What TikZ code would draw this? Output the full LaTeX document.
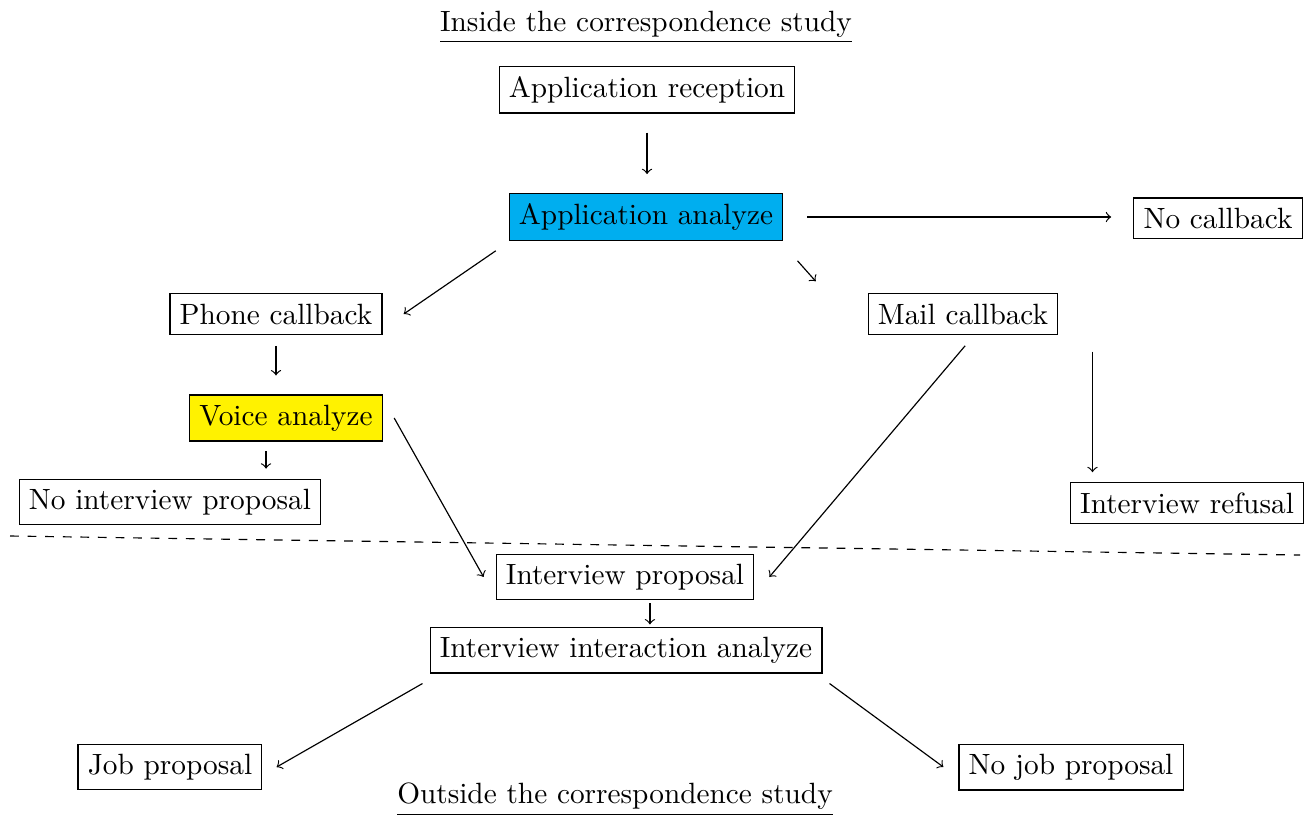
\documentclass[tikz,border=0pt]{standalone}
\usepackage{xcolor}

\definecolor{analyzeblue}{RGB}{0,174,239}
\definecolor{voiceyellow}{RGB}{255,242,0}

\tikzset{
    stage/.style={draw, inner sep=0.333em},
    arr/.style={->}
}

\begin{document}
\begin{tikzpicture}
        \useasboundingbox (0,0) rectangle (15.767,-9.796);

        % Section titles
        \node[anchor=base] (inside) at (7.746,-0.372) {\underline{Inside the correspondence study}};
        \node[anchor=base] (outside) at (7.374,-9.640) {\underline{Outside the correspondence study}};

        % Stages inside the study
        \node[stage] (reception) at (7.758,-1.079) {Application reception};
        \node[stage, fill=analyzeblue] (analyze) at (7.746,-2.602) {Application analyze};
        \node[stage] (nocall) at (14.604,-2.614) {No callback};
        \node[stage] (phone) at (3.309,-3.765) {Phone callback};
        \node[stage] (mail) at (11.547,-3.765) {Mail callback};
        \node[stage, fill=voiceyellow] (voice) at (3.429,-5.012) {Voice analyze};
        \node[stage] (noint) at (2.038,-6.019) {No interview proposal};
        \node[stage] (refusal) at (14.233,-6.031) {Interview refusal};

        % Stages outside the study
        \node[stage] (intprop) at (7.494,-6.918) {Interview proposal};
        \node[stage] (interact) at (7.506,-7.794) {Interview interaction analyze};
        \node[stage] (job) at (2.038,-9.197) {Job proposal};
        \node[stage] (nojob) at (12.842,-9.197) {No job proposal};

        % Border between inside and outside
        \draw[dashed] (0.120,-6.427) -- (15.588,-6.655);

        % Arrows
        \draw[arr, shorten <=6.5pt, shorten >=6.5pt] (reception.south) -- (reception.south |- analyze.north);
        \draw[arr, shorten <=8.2pt, shorten >=7.5pt] (analyze.east) -- (analyze.east -| nocall.west);
        \draw[arr] ([shift={(-4.4pt,-3.4pt)}]analyze.south west) -- ([xshift=7.2pt]phone.east);
        \draw[arr] ([shift={(4.8pt,-6.8pt)}]analyze.south east) -- ([shift={(-17.7pt,4.1pt)}]mail.north west);
        \draw[arr, shorten <=3.8pt, shorten >=6.5pt] (phone.south) -- (phone.south |- voice.north);
        \draw[arr, shorten <=3.4pt, shorten >=3.4pt] ([xshift=-6.8pt]voice.south) -- ([xshift=-6.8pt]voice.south |- noint.north);
        \draw[arr] ([xshift=3.8pt]voice.east) -- ([xshift=-4.1pt]intprop.west);
        \draw[arr] ([shift={(0.7pt,-3.8pt)}]mail.south) -- ([xshift=5.1pt]intprop.east);
        \draw[arr, shorten >=3.4pt] ([shift={(11.6pt,-5.8pt)}]mail.south east) -- ([xshift=11.6pt]mail.south east |- refusal.north);
        \draw[arr, shorten <=1pt, shorten >=0.7pt] ([xshift=8.5pt]intprop.south) -- ([xshift=8.5pt]intprop.south |- interact.north);
        \draw[arr] ([shift={(-2.4pt,-3.4pt)}]interact.south west) -- ([xshift=4.8pt]job.east);
        \draw[arr] ([shift={(2.4pt,-3.4pt)}]interact.south east) -- ([xshift=-5.1pt]nojob.west);
    \end{tikzpicture}
\end{document}
